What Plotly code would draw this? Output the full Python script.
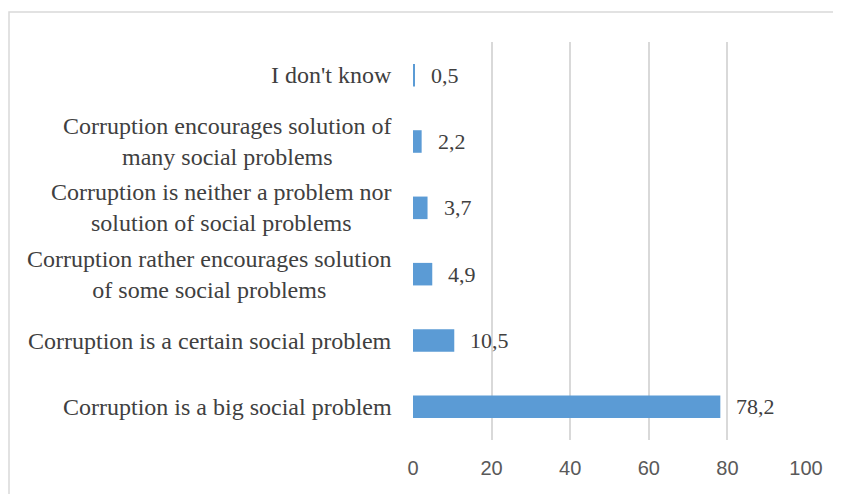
import plotly.graph_objects as go

categories = [
    "Corruption is a big social problem",
    "Corruption is a certain social problem",
    "Corruption rather encourages solution<br>of some social problems",
    "Corruption is neither a problem nor<br>solution of social problems",
    "Corruption encourages solution of<br>many social problems",
    "I don't know",
]
values = [78.2, 10.5, 4.9, 3.7, 2.2, 0.5]
x_ticks = [0, 20, 40, 60, 80, 100]

BAR = "#5B9BD5"
GRID = "#d9d9d9"
SERIF = "Liberation Serif, Times New Roman, serif"

fig = go.Figure()
fig.add_trace(go.Bar(
    x=values, y=categories, orientation="h",
    marker=dict(color=BAR, line=dict(width=0)),
    width=0.34, hoverinfo="skip",
))

annotations = []
for c, v in zip(categories, values):
    annotations.append(dict(
        x=v, y=c, xref="x", yref="y", text=f"{v:.1f}".replace(".", ","),
        showarrow=False, xanchor="left", yanchor="middle", xshift=14,
        font=dict(family=SERIF, size=22, color="#404040"),
    ))
    annotations.append(dict(
        x=0, y=c, xref="paper", yref="y", text=c,
        showarrow=False, xanchor="right", yanchor="middle", align="center",
        xshift=-19,
        font=dict(family=SERIF, size=24, color="#404040"),
    ))

# page has an 8px body margin: design the figure offset by -8 px
OFF = 8
W, H = 841 - OFF, 494 - OFF
L, T = 413 - OFF, 42 - OFF
pw, ph = 393, 398
R = W - L - pw
B = H - T - ph

fig.update_layout(
    width=W, height=H,
    margin=dict(l=L, r=R, t=T, b=B, pad=0),
    paper_bgcolor="white", plot_bgcolor="white",
    showlegend=False,
    annotations=annotations,
    xaxis=dict(
        range=[0, 100], tickvals=x_ticks, ticktext=[str(t) for t in x_ticks],
        showgrid=True, gridcolor=GRID, gridwidth=1.5,
        zeroline=False, showline=False, ticks="",
        tickfont=dict(family="Liberation Sans, Arial, sans-serif", size=20, color="#595959"),
        ticklabelstandoff=14, fixedrange=True,
    ),
    yaxis=dict(
        categoryorder="array", categoryarray=categories,
        showticklabels=False, showgrid=False, zeroline=False, showline=False,
        ticks="", range=[-0.5, len(categories) - 0.5], fixedrange=True,
    ),
    shapes=[dict(
        type="rect", xref="paper", yref="paper",
        x0=(1 - L) / pw, x1=(W + 60 - L) / pw,
        y0=-(H + 60 - (T + ph)) / ph, y1=(T + ph - (12 - OFF)) / ph,
        line=dict(color=GRID, width=1.5), fillcolor="rgba(0,0,0,0)", layer="below",
    )],
)

fig.write_html("out.html")
